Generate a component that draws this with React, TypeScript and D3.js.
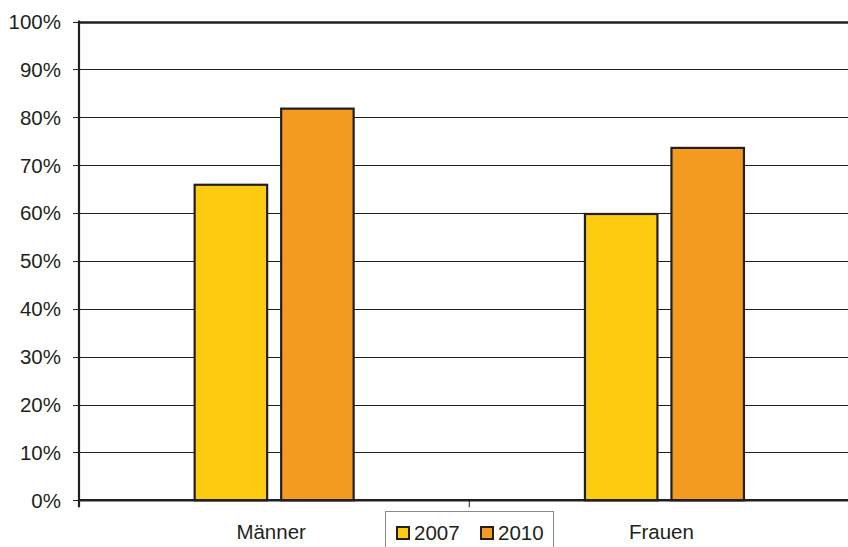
import React from "react";
import * as d3 from "d3";

const categories = ["Männer", "Frauen"];
const seriesNames = ["2007", "2010"];
const values2007 = [65.9, 59.8];
const values2010 = [81.8, 73.6];
const yTicks = [0, 10, 20, 30, 40, 50, 60, 70, 80, 90, 100];
const colors = ["#FDCB10", "#F39A21"];

const W = 848;
const H = 547;
const left = 79;
const right = 859.6;
const top = 21.5;
const bottom = 500.3;
const dark = "#231f20";
const font = "'Liberation Sans', Arial, sans-serif";

export default function App() {
  const x = d3.scaleBand<string>().domain(categories).range([left, right]).padding(0);
  const y = d3.scaleLinear().domain([0, 100]).range([bottom, top]);
  const series = [values2007, values2010];
  const groupHalf = 79.5;

  return (
    <svg width={W} height={H} style={{ position: "absolute", left: 0, top: 0, background: "#fff" }}>
      <rect x={0} y={0} width={W} height={H} fill="#fff" />
      {/* gridlines */}
      {yTicks.map((t) => (
        <line
          key={"g" + t}
          x1={left}
          x2={right}
          y1={Math.round(y(t)) + 0.5}
          y2={Math.round(y(t)) + 0.5}
          stroke={dark}
          strokeWidth={t === 100 ? 2.5 : 1}
        />
      ))}
      {/* y tick marks */}
      {yTicks.map((t) => (
        <line key={"t" + t} x1={73} x2={left} y1={Math.round(y(t)) + 0.5} y2={Math.round(y(t)) + 0.5} stroke={dark} strokeWidth={1} />
      ))}
      {/* y labels */}
      {yTicks.map((t) => (
        <text
          key={"l" + t}
          x={61}
          y={y(t)}
          dy="0.36em"
          textAnchor="end"
          fontFamily={font}
          fontSize={20.5}
          fill={dark}
        >
          {t + "%"}
        </text>
      ))}
      {/* bars */}
      {categories.map((c, ci) => {
        const center = (x(c) as number) + x.bandwidth() / 2;
        const inner = d3
          .scaleBand<string>()
          .domain(seriesNames)
          .range([center - groupHalf, center + groupHalf])
          .paddingInner(0.162)
          .paddingOuter(0);
        return seriesNames.map((s, si) => {
          const v = series[si][ci];
          const bx = inner(s) as number;
          return (
            <rect
              key={c + s}
              x={bx}
              y={y(v)}
              width={inner.bandwidth()}
              height={y(0) - y(v)}
              fill={colors[si]}
              stroke={dark}
              strokeWidth={2.2}
            />
          );
        });
      })}
      {/* axes */}
      <line x1={left} x2={left} y1={top - 1} y2={bottom + 7} stroke={dark} strokeWidth={2.2} />
      <line x1={left} x2={right} y1={bottom} y2={bottom} stroke={dark} strokeWidth={2.5} />
      {categories.slice(1).map((c) => (
        <line key={"xt" + c} x1={(x(c) as number)} x2={(x(c) as number)} y1={bottom} y2={bottom + 7} stroke={dark} strokeWidth={1} />
      ))}
      {/* x labels */}
      {categories.map((c) => (
        <text
          key={"xl" + c}
          x={(x(c) as number) + x.bandwidth() / 2 - 3}
          y={539}
          textAnchor="middle"
          fontFamily={font}
          fontSize={20.5}
          fill={dark}
        >
          {c}
        </text>
      ))}
      {/* legend */}
      <rect x={385.5} y={511.5} width={168} height={60} fill="#fff" stroke="#8a8a8a" strokeWidth={1} />
      {seriesNames.map((s, i) => {
        const lx = 396 + i * 84;
        return (
          <g key={"lg" + s}>
            <rect x={lx + 1} y={527} width={12} height={12} fill={colors[i]} stroke={dark} strokeWidth={2} />
            <text x={lx + 18} y={539.5} fontFamily={font} fontSize={20.5} fill={dark}>
              {s}
            </text>
          </g>
        );
      })}
    </svg>
  );
}
